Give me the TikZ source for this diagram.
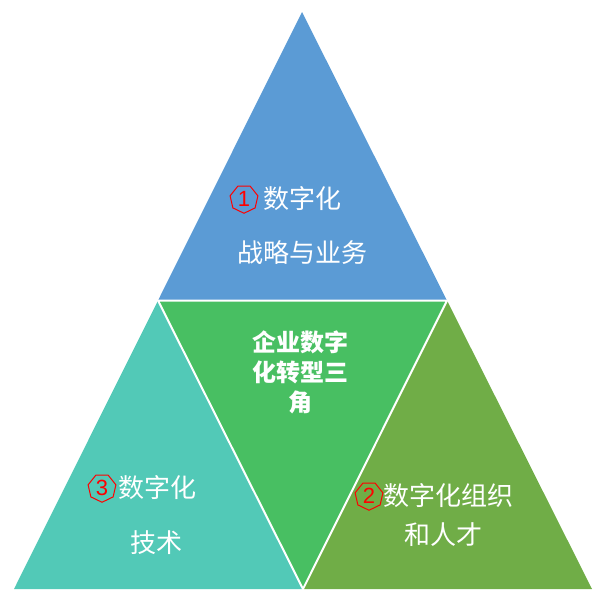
\documentclass[tikz,border=0pt]{standalone}
\usepackage{fontspec}
\setmainfont{Liberation Sans}
\newfontfamily\cjk{Noto Sans CJK SC}
\usetikzlibrary{shapes.geometric}
\definecolor{topblue}{HTML}{5B9BD5}
\definecolor{midgreen}{HTML}{48BF62}
\definecolor{leftteal}{HTML}{52C9B7}
\definecolor{rightgreen}{HTML}{70AD47}
\begin{document}
\begin{tikzpicture}[x=1pt,y=-1pt,
  lbl/.style={text=white,font=\cjk\fontsize{26}{26}\selectfont,inner sep=0pt,text height=22.4pt,text depth=3.6pt,anchor=center},
  mid/.style={text=white,font=\cjk\bfseries\fontsize{24}{30}\selectfont,align=center,inner sep=0pt},
  num/.style={regular polygon,regular polygon sides=7,shape border rotate=180,draw=red,line width=1pt,text=red,font=\fontsize{22}{22}\selectfont,minimum size=28.5pt,inner sep=0pt},
  sep/.style={draw=white,line width=2pt}]
\useasboundingbox (0,0) rectangle (600,600);
\coordinate (A) at (302,12);
\coordinate (L) at (14,589);
\coordinate (R) at (592,589);
\coordinate (ML) at (158,300.5);
\coordinate (MR) at (447,300.5);
\coordinate (MB) at (303,589);
\fill[topblue] (A) -- (MR) -- (ML) -- cycle;
\fill[leftteal] (ML) -- (MB) -- (L) -- cycle;
\fill[rightgreen] (MR) -- (R) -- (MB) -- cycle;
\fill[midgreen] (ML) -- (MR) -- (MB) -- cycle;
\draw[sep] (ML) -- (MR) -- (MB) -- cycle;
% top
\node[num] (n1) at (244,199) {1};
\node[lbl] (t1) at (302.5,199) {数字化};
\node[lbl] (t2) at (302,253) {战略与业务};
% middle
\node[mid] (m) at (300,372) {企业数字\\化转型三\\角};
% left
\node[num] (n3) at (102,488) {3};
\node[lbl] (l1) at (157,488) {数字化};
\node[lbl] (l2) at (156.5,543) {技术};
% right
\node[num] (n2) at (369,496) {2};
\node[lbl] (r1) at (448,496) {数字化组织};
\node[lbl] (r2) at (443,535) {和人才};
\end{tikzpicture}
\end{document}
